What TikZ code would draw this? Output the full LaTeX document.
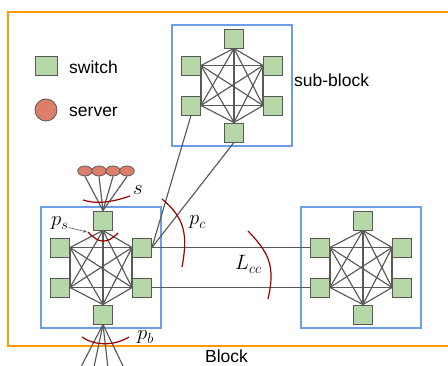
\documentclass[tikz,border=0pt]{standalone}
\usepackage{fontspec}
\newfontfamily\arialfont{Liberation Sans}
\usetikzlibrary{arrows.meta, positioning, shapes.geometric}
\definecolor{blockorange}{HTML}{FF9900}
\definecolor{subblue}{HTML}{6D9EEB}
\definecolor{switchgreen}{HTML}{B6D7A8}
\definecolor{servred}{HTML}{DD7E6B}
\definecolor{linkgray}{HTML}{595959}
\definecolor{cutred}{HTML}{990000}

\begin{document}
\begin{tikzpicture}[
  x=1pt, y=-1pt,
  every node/.style={font=\arialfont\fontsize{17.5}{20}\selectfont},
  sw/.style={
    draw=linkgray, fill=switchgreen, line width=0.9pt,
    minimum width=19pt, minimum height=19pt, inner sep=0pt
  },
  srv/.style={
    ellipse, draw=linkgray, fill=servred, line width=0.8pt,
    minimum width=14.5pt, minimum height=10pt, inner sep=0pt
  },
  sub/.style={draw=subblue, line width=1.3pt},
  link/.style={draw=linkgray, line width=1.15pt},
  cut/.style={draw=cutred, line width=1.2pt},
  pointer/.style={draw=linkgray, line width=0.6pt, -{Stealth[length=4pt, width=3pt]}},
  mlab/.style={font=\fontsize{21.5}{25}\selectfont, inner sep=0pt, anchor=base west},
  tlab/.style={inner sep=0pt, anchor=base west}
]

  \useasboundingbox (0,0) rectangle (448,366);

  % Block
  \draw[blockorange, line width=2pt] (8,12) rectangle (470,346);
  \node[tlab, anchor=base] (blk) at (226.5,363) {Block};

  % Legenda
  \node[sw, minimum width=22pt] (leg-sw) at (46,65.5) {};
  \node[tlab] (leg-swt) at (69,74) {switch};
  \node[srv, circle, minimum size=22pt] (leg-srv) at (46,110) {};
  \node[tlab] (leg-srvt) at (69,117) {server};

  % Sotto-blocchi (K6 di switch)
  \foreach \b/\cx/\cy in {S/232/85.5, L/101/267.5, R/361/267.5} {
    \draw[sub] (\cx-60,\cy-60.5) rectangle (\cx+60,\cy+60.5);
    \node[sw] (\b-t)  at (\cx+2,\cy-47) {};
    \node[sw] (\b-ul) at (\cx-41,\cy-20) {};
    \node[sw] (\b-ur) at (\cx+41,\cy-20) {};
    \node[sw] (\b-ll) at (\cx-41,\cy+20) {};
    \node[sw] (\b-lr) at (\cx+41,\cy+20) {};
    \node[sw] (\b-b)  at (\cx+2,\cy+47) {};
    \foreach \p [count=\i] in {t.south, ur.west, lr.west, b.north, ll.east, ul.east}
      \foreach \q [count=\j] in {t.south, ur.west, lr.west, b.north, ll.east, ul.east}
        {\ifnum\j>\i \draw[link] (\b-\p) -- (\b-\q); \fi}
  }
  \node[tlab] (sub-lab) at (294,87) {sub-block};

  % Server
  \foreach \k/\sx in {1/85, 2/99, 3/113, 4/127}
    \node[srv] (srv\k) at (\sx,171) {};
  \foreach \k in {1,...,4}
    \draw[link] (srv\k.south) -- (L-t.north);

  % Collegamenti verso il basso
  \foreach \dx in {-27,-11,6,25}
    \draw[link] (L-b.south) -- ++(\dx,52);

  % Collegamenti tra sotto-blocchi
  \draw[link] (S-ll.south) -- (L-ur.east);
  \draw[link] (S-b.south) -- (L-ur.east);
  \draw[link] (L-ur.east) -- (R-ul.west);
  \draw[link] (L-lr.east) -- (R-ll.west);

  % Tagli
  \draw[cut] (83,200) .. controls (95,204) and (110,203) .. (130,196);
  \node[mlab] (s-lab) at (133,195) {$s$};

  \draw[cut] (88,232) .. controls (99,244) and (107,244) .. (118,233);
  \coordinate (ps-cut) at (87,232);
  \node[mlab] (ps-lab) at (51,226) {$p_s$};
  \draw[pointer] ([yshift=-4pt]ps-lab.east) -- (ps-cut);

  \draw[cut] (162,199) .. controls (185,218) and (188,235) .. (182,267);
  \node[mlab] (pc-lab) at (189,225) {$p_c$};

  \draw[cut] (248,231) .. controls (268,252) and (276,265) .. (268,299);
  \node[mlab] (lcc-lab) at (235,270) {$L_{cc}$};

  \draw[cut] (82,337) .. controls (95,346) and (114,346) .. (129,337);
  \node[mlab] (pb-lab) at (137,340) {$p_b$};

\end{tikzpicture}
\end{document}
